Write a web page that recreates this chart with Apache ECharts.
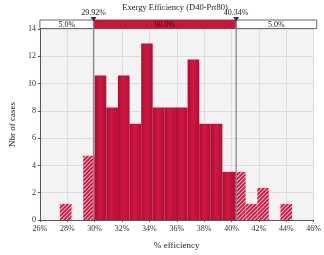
<!DOCTYPE html>
<html>
<head>
<meta charset="utf-8">
<script src="https://cdn.jsdelivr.net/npm/echarts@6/dist/echarts.min.js"></script>
<style>
  html, body { margin: 0; padding: 0; background: #fff; }
  #chart { width: 324px; height: 255px; }
</style>
</head>
<body>
<div id="chart"></div>
<script>
// histogram bins (% efficiency) and bar heights
const binEdges = [27.46, 28.31, 29.16, 30.00, 30.85, 31.70, 32.55, 33.40, 34.24, 35.09,
                  35.94, 36.79, 37.64, 38.48, 39.33, 40.18, 41.03, 41.88, 42.72, 43.57, 44.42];
const binValues = [1.18, 0, 4.71, 10.59, 8.24, 10.59, 7.06, 12.94, 8.24, 8.24,
                   8.24, 11.76, 7.06, 7.06, 3.53, 3.53, 1.18, 2.35, 0, 1.18];
// delimiters and the share of cases in each region
const delimiters = [29.92, 40.34];
const bandPercents = [5.0, 90.0, 5.0];

const xMin = 26, xMax = 46, yMin = 0, yMax = 14;
const FONT = 'Liberation Serif';

// hatched fill for tails
const hatch = document.createElement('canvas');
hatch.width = 4; hatch.height = 4;
(function () {
    const c = hatch.getContext('2d');
    c.fillStyle = '#eeb3c0';
    c.fillRect(0, 0, 4, 4);
    c.strokeStyle = '#c6163e';
    c.lineWidth = 1.6;
    c.beginPath();
    c.moveTo(-1, 5); c.lineTo(5, -1);
    c.moveTo(-3, 3); c.lineTo(3, -3);
    c.moveTo(1, 7); c.lineTo(7, 1);
    c.stroke();
})();
const hatchFill = { image: hatch, repeat: 'repeat' };

const solidFill = () => new echarts.graphic.LinearGradient(0, 0, 1, 0, [
    { offset: 0, color: '#ad0c31' },
    { offset: 0.45, color: '#cf1741' },
    { offset: 1, color: '#b30e35' }
]);

const binData = binValues.map((v, i) => [binEdges[i], binEdges[i + 1], v]);
const bandBounds = [xMin, ...delimiters, xMax];
const bandData = bandPercents.map((p, i) => [bandBounds[i], bandBounds[i + 1], p]);

function renderBin(params, api) {
    const x0 = api.value(0), x1 = api.value(1), v = api.value(2);
    if (!v) return;
    const cuts = [x0, ...delimiters.filter(d => d > x0 && d < x1), x1];
    const children = [];
    for (let i = 0; i < cuts.length - 1; i++) {
        const a = cuts[i], b = cuts[i + 1];
        const mid = (a + b) / 2;
        const inside = mid >= delimiters[0] && mid <= delimiters[1];
        const p0 = api.coord([a, v]);
        const p1 = api.coord([b, 0]);
        children.push({
            type: 'rect',
            shape: { x: p0[0], y: p0[1], width: p1[0] - p0[0], height: p1[1] - p0[1] },
            style: { fill: inside ? solidFill() : hatchFill }
        });
    }
    return { type: 'group', children };
}

function renderBand(params, api) {
    const a = api.value(0), b = api.value(1), p = api.value(2);
    const p0 = api.coord([a, yMax]);
    const p1 = api.coord([b, yMax]);
    const right = b === xMax ? p1[0] + 3 : p1[0];
    const top = p0[1] - 9;
    const mid = params.dataIndex === 1;
    return {
        type: 'group',
        children: [{
            type: 'rect',
            shape: { x: p0[0], y: top, width: right - p0[0], height: 8.5 },
            style: { fill: mid ? '#d3113b' : '#ffffff', stroke: '#444', lineWidth: 0.8 }
        }, {
            type: 'text',
            x: (p0[0] + right) / 2, y: top + 4.5,
            style: {
                text: p.toFixed(1) + '%', fill: mid ? '#3a0010' : '#222',
                font: '8px "' + FONT + '"', align: 'center', verticalAlign: 'middle'
            }
        }]
    };
}

function renderDelim(params, api) {
    const d = api.value(0);
    const top = api.coord([d, yMax]);
    const bot = api.coord([d, yMin]);
    const x = top[0];
    const bandTop = top[1] - 9;
    return {
        type: 'group',
        children: [{
            type: 'line',
            shape: { x1: x, y1: bot[1], x2: x, y2: bandTop },
            style: { stroke: '#8a8a8a', lineWidth: 1.3 }
        }, {
            type: 'polygon',
            shape: { points: [[x - 3, bandTop - 3], [x + 3, bandTop - 3], [x, bandTop + 1.5]] },
            style: { fill: '#333' }
        }, {
            type: 'text',
            x: x, y: bandTop - 3,
            style: {
                text: d.toFixed(2) + '%', fill: '#222',
                font: '8px "' + FONT + '"', align: 'center', verticalAlign: 'bottom'
            }
        }]
    };
}

const chart = echarts.init(document.getElementById('chart'));
chart.setOption({
    animation: false,
    backgroundColor: '#ffffff',
    title: {
        text: 'Exergy Efficiency (D40-Prt80)',
        left: 170, textAlign: 'center', top: -2,
        textStyle: { fontFamily: FONT, fontSize: 8.5, fontWeight: 'normal', color: '#222' }
    },
    grid: {
        left: 26, right: 6, top: 29, bottom: 32,
        show: true, backgroundColor: '#f3f3f3', borderWidth: 0
    },
    xAxis: {
        type: 'value', min: xMin, max: xMax, interval: 2,
        name: '% efficiency', nameLocation: 'middle', nameGap: 21,
        nameTextStyle: { fontFamily: FONT, fontSize: 9, color: '#222' },
        axisLine: { show: true, lineStyle: { color: '#555', width: 1 } },
        axisTick: { show: true, length: 2, lineStyle: { color: '#555' } },
        axisLabel: { formatter: '{value}%', fontFamily: FONT, fontSize: 8, color: '#333', margin: 5 },
        splitLine: { show: true, lineStyle: { color: '#dddddd', width: 1 } }
    },
    yAxis: {
        type: 'value', min: yMin, max: yMax, interval: 2,
        name: 'Nbr of cases', nameLocation: 'middle', nameGap: 15, nameRotate: 90,
        nameTextStyle: { fontFamily: FONT, fontSize: 9, color: '#222' },
        axisLine: { show: true, lineStyle: { color: '#555', width: 1 } },
        axisTick: { show: true, length: 2, lineStyle: { color: '#555' } },
        axisLabel: { fontFamily: FONT, fontSize: 8, color: '#333', margin: 4 },
        splitLine: { show: true, lineStyle: { color: '#dddddd', width: 1 } }
    },
    series: [
        { type: 'custom', name: 'bins', data: binData, renderItem: renderBin, z: 2 },
        { type: 'custom', name: 'band', data: bandData, renderItem: renderBand, z: 3 },
        { type: 'custom', name: 'delims', data: delimiters.map(d => [d]), renderItem: renderDelim, z: 4 }
    ]
});
</script>
</body>
</html>
